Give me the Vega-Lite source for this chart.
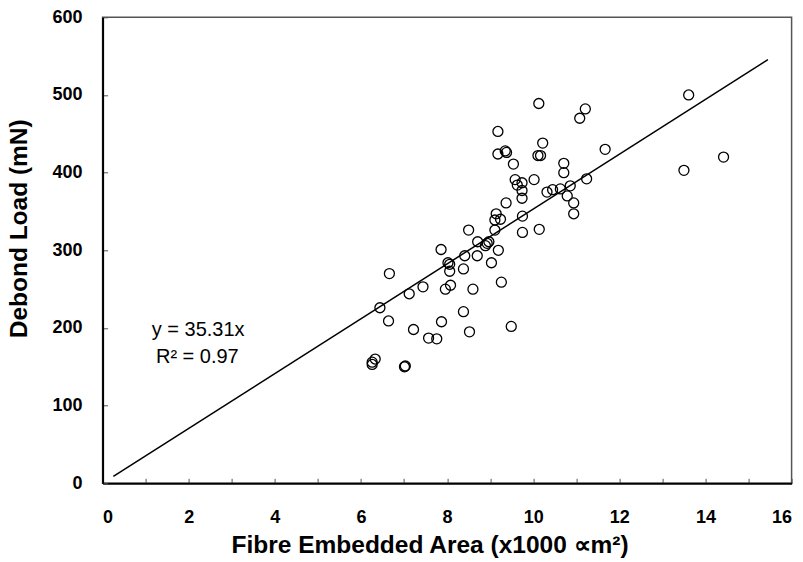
{
  "$schema": "https://vega.github.io/schema/vega-lite/v6.json",
  "width": 689,
  "height": 466,
  "autosize": {"type": "none"},
  "padding": {"left": 102.6, "top": 17.3, "right": 11, "bottom": 78},
  "background": "white",
  "config": {
    "view": {"stroke": "#555", "strokeWidth": 1.5},
    "font": "Liberation Sans"
  },
  "datasets": {
    "pts": [
      {"area": 10.13, "load": 489}, {"area": 11.21, "load": 482}, {"area": 11.08, "load": 470},
      {"area": 9.18, "load": 453}, {"area": 10.22, "load": 438}, {"area": 9.18, "load": 424},
      {"area": 9.35, "load": 428}, {"area": 9.38, "load": 426}, {"area": 10.11, "load": 422},
      {"area": 10.17, "load": 422}, {"area": 9.54, "load": 411}, {"area": 10.71, "load": 412},
      {"area": 10.71, "load": 400}, {"area": 11.67, "load": 430}, {"area": 9.58, "load": 391},
      {"area": 10.02, "load": 391}, {"area": 9.63, "load": 384}, {"area": 9.74, "load": 387},
      {"area": 9.74, "load": 377}, {"area": 9.74, "load": 367}, {"area": 10.32, "load": 375},
      {"area": 10.45, "load": 378}, {"area": 10.63, "load": 379}, {"area": 10.86, "load": 383},
      {"area": 11.24, "load": 392}, {"area": 10.79, "load": 370}, {"area": 10.94, "load": 361},
      {"area": 10.94, "load": 347}, {"area": 9.37, "load": 361}, {"area": 9.14, "load": 347},
      {"area": 9.11, "load": 339}, {"area": 9.24, "load": 340}, {"area": 9.75, "load": 344},
      {"area": 8.5, "load": 326}, {"area": 9.11, "load": 326}, {"area": 9.75, "load": 323},
      {"area": 10.14, "load": 327}, {"area": 8.71, "load": 311}, {"area": 8.93, "load": 309},
      {"area": 8.97, "load": 311}, {"area": 8.89, "load": 306}, {"area": 7.86, "load": 301},
      {"area": 9.19, "load": 300}, {"area": 8.41, "load": 293}, {"area": 8.7, "load": 293},
      {"area": 8.02, "load": 284}, {"area": 8.06, "load": 282}, {"area": 8.06, "load": 273},
      {"area": 8.38, "load": 276}, {"area": 9.03, "load": 284}, {"area": 6.66, "load": 270},
      {"area": 7.12, "load": 244}, {"area": 7.44, "load": 253}, {"area": 7.96, "load": 250},
      {"area": 8.08, "load": 255}, {"area": 8.6, "load": 250}, {"area": 9.26, "load": 259},
      {"area": 6.44, "load": 226}, {"area": 6.64, "load": 209}, {"area": 7.22, "load": 198},
      {"area": 7.87, "load": 208}, {"area": 8.38, "load": 221}, {"area": 8.52, "load": 195},
      {"area": 9.49, "load": 202}, {"area": 7.57, "load": 187}, {"area": 7.76, "load": 186},
      {"area": 6.26, "load": 156}, {"area": 6.33, "load": 160}, {"area": 6.26, "load": 153},
      {"area": 7.01, "load": 150}, {"area": 7.03, "load": 151}, {"area": 13.61, "load": 500},
      {"area": 13.5, "load": 403}, {"area": 14.42, "load": 420}
    ],
    "fit": [
      {"area": 0.25, "load": 8.8},
      {"area": 15.45, "load": 545.5}
    ]
  },
  "layer": [
    {
      "data": {"name": "fit"},
      "mark": {"type": "line", "color": "#000", "strokeWidth": 1.5},
      "encoding": {
        "x": {
          "field": "area", "type": "quantitative",
          "scale": {"domain": [0, 16], "nice": false},
          "axis": {
            "title": "Fibre Embedded Area (x1000 ∝m²)",
            "values": [0,1,2,3,4,5,6,7,8,9,10,11,12,13,14,15,16],
            "labelExpr": "datum.value % 2 == 0 ? datum.label : ''",
            "grid": false,
            "domainColor": "#000", "domainWidth": 2,
            "tickColor": "#555", "tickSize": -5, "tickWidth": 1,
            "labelFont": "Liberation Sans", "labelFontWeight": "bold", "labelFontSize": 18, "labelColor": "#000",
            "labelPadding": 30,
            "titleFont": "Liberation Sans", "titleFontWeight": "bold", "titleFontSize": 24.5, "titleColor": "#000",
            "titlePadding": 7,
            "titleX": 327
          }
        },
        "y": {
          "field": "load", "type": "quantitative",
          "scale": {"domain": [0, 600], "nice": false},
          "axis": {
            "title": "Debond Load (mN)",
            "values": [0,50,100,150,200,250,300,350,400,450,500,550,600],
            "labelExpr": "datum.value % 100 == 0 ? datum.label : ''",
            "grid": false,
            "domainColor": "#000", "domainWidth": 2,
            "tickColor": "#555", "tickSize": -5, "tickWidth": 1,
            "labelFont": "Liberation Sans", "labelFontWeight": "bold", "labelFontSize": 18, "labelColor": "#000",
            "labelPadding": 25.5,
            "titleFont": "Liberation Sans", "titleFontWeight": "bold", "titleFontSize": 24.5, "titleColor": "#000",
            "titlePadding": 21,
            "titleY": 211
          }
        }
      }
    },
    {
      "data": {"name": "pts"},
      "mark": {"type": "point", "shape": "circle", "filled": false, "color": "#000", "strokeWidth": 1.3, "size": 100, "opacity": 1},
      "encoding": {
        "x": {"field": "area", "type": "quantitative"},
        "y": {"field": "load", "type": "quantitative"}
      }
    },
    {
      "data": {"values": [{"t": "y = 35.31x"}]},
      "mark": {"type": "text", "font": "Liberation Sans", "fontSize": 20, "color": "#000", "align": "center", "baseline": "middle"},
      "encoding": {
        "x": {"datum": 2.22, "type": "quantitative"},
        "y": {"datum": 197.6, "type": "quantitative"},
        "text": {"field": "t"}
      }
    },
    {
      "data": {"values": [{"t": "R² = 0.97"}]},
      "mark": {"type": "text", "font": "Liberation Sans", "fontSize": 20, "color": "#000", "align": "center", "baseline": "middle"},
      "encoding": {
        "x": {"datum": 2.2, "type": "quantitative"},
        "y": {"datum": 162.8, "type": "quantitative"},
        "text": {"field": "t"}
      }
    }
  ]
}
